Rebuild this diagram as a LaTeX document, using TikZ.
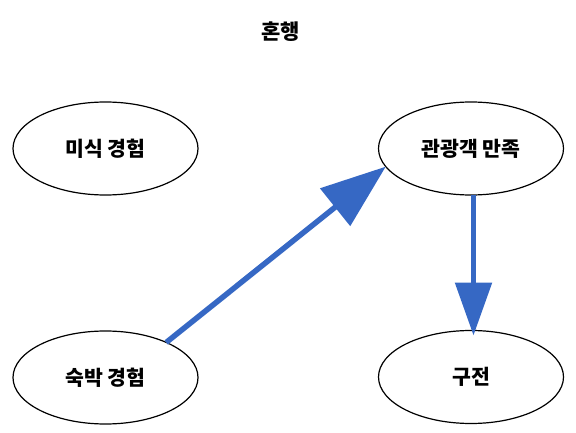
\documentclass[tikz,border=0pt]{standalone}
\usepackage{fontspec}
\setmainfont{Noto Sans CJK KR}
\usetikzlibrary{shapes.geometric,arrows.meta}
\definecolor{arrowblue}{RGB}{54,104,196}
\tikzset{
  ell/.style={ellipse, draw=black, line width=1.2pt, minimum width=185pt, minimum height=93pt, inner sep=0pt, outer sep=0pt, font=\fontsize{20.5}{24}\selectfont\bfseries},
  conn/.style={draw=arrowblue, line width=5.5pt},
}
\begin{document}
\begin{tikzpicture}[x=1pt,y=-1pt]
\useasboundingbox (0,0) rectangle (576,433);
\node[font=\fontsize{21}{24}\selectfont\bfseries] (title) at (280.5,32) {혼행};
\node[ell] (misik) at (105.5,148.5) {미식 경험};
\node[ell] (gwan) at (471,148.5) {관광객 만족};
\node[ell] (sukbak) at (105.5,377.5) {숙박 경험};
\node[ell] (gujeon) at (471,377) {구전};
\draw[conn, -{Triangle[length=65pt,width=47pt]}] (sukbak.30) -- (gwan.192);
\draw[conn, -{Triangle[length=53pt,width=36pt]}] ([xshift=2.5pt]gwan.south) -- ([xshift=2.5pt,yshift=-5pt]gujeon.north);
\end{tikzpicture}
\end{document}
